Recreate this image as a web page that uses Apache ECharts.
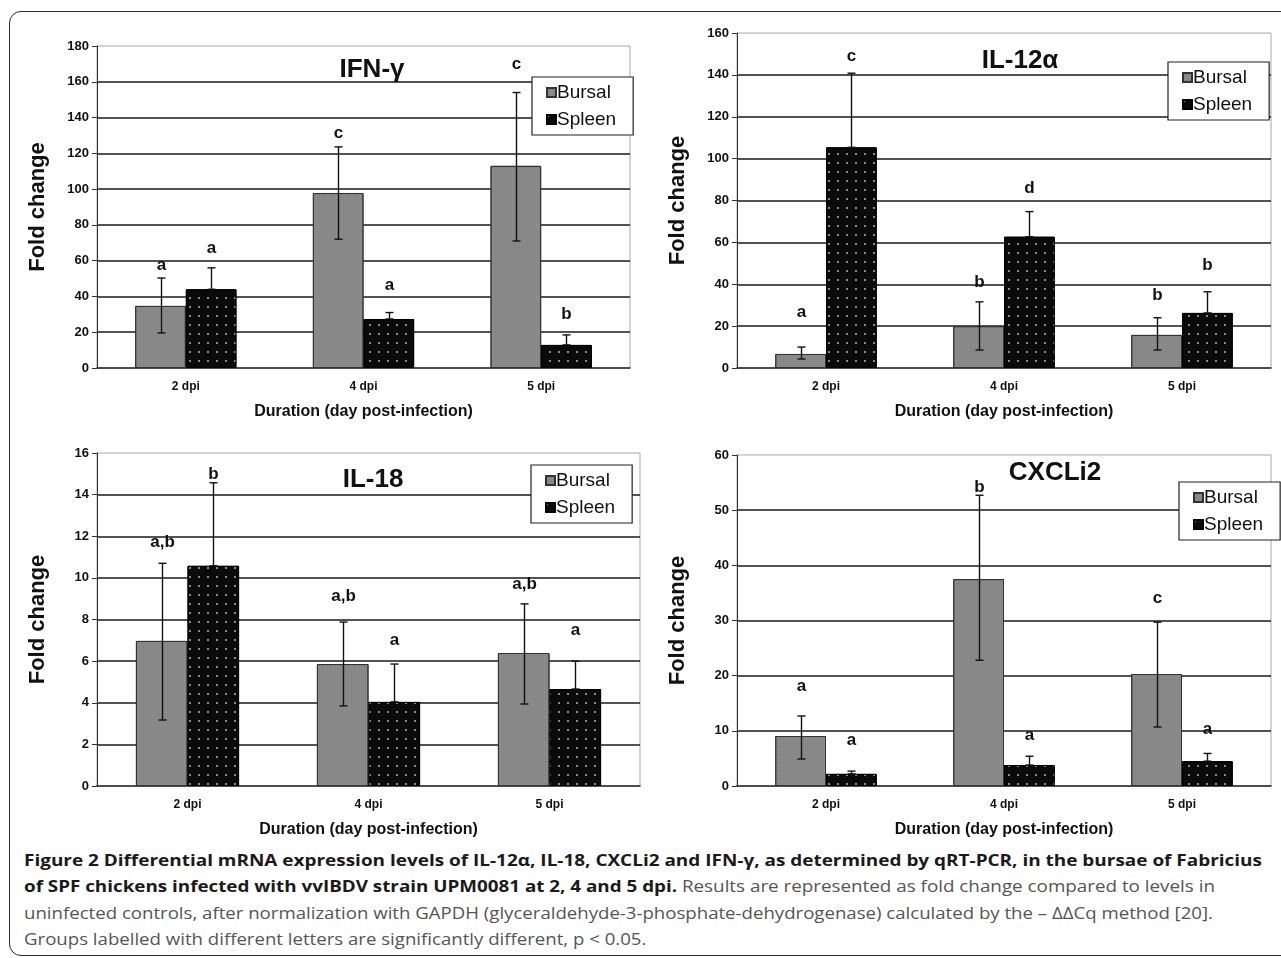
<!DOCTYPE html>
<html>
<head>
<meta charset="utf-8">
<script src="https://cdn.jsdelivr.net/npm/echarts@6/dist/echarts.min.js"></script>
<style>
  html, body { margin: 0; padding: 0; background: #fff; }
  body { width: 1281px; height: 958px; position: relative; overflow: hidden; }
  #frame { position: absolute; left: 9px; top: 11px; width: 1300px; height: 945px;
           border: 1.5px solid #2a2a2a; border-radius: 12px; box-sizing: border-box; }
  #main { position: absolute; left: 0; top: 0; width: 1281px; height: 840px; }
  #caption { position: absolute; left: 24px; top: 850px; font-family: "Open Sans", sans-serif;
             font-size: 16px; color: #555; }
  #caption .ln { white-space: nowrap; display: block; height: 26.4px; line-height: 20px;
                 transform-origin: 0 0; width: max-content; }
  #caption b { color: #1a1a1a; font-weight: 700; }
</style>
</head>
<body>
<div id="frame"></div>
<div id="main"></div>
<div id="caption">
  <div class="ln" data-w="1238"><b>Figure 2 Differential mRNA expression levels of IL-12α, IL-18, CXCLi2 and IFN-γ, as determined by qRT-PCR, in the bursae of Fabricius</b></div>
  <div class="ln" data-w="1191"><b>of SPF chickens infected with vvIBDV strain UPM0081 at 2, 4 and 5 dpi.</b> Results are represented as fold change compared to levels in</div>
  <div class="ln" data-w="1189">uninfected controls, after normalization with GAPDH (glyceraldehyde-3-phosphate-dehydrogenase) calculated by the – ΔΔCq method [20].</div>
  <div class="ln" data-w="same">Groups labelled with different letters are significantly different, p &lt; 0.05.</div>
</div>
<script>
// values (bar height, error ends, group letters and where they sit)
const categories = ['2 dpi', '4 dpi', '5 dpi'];

// IFN-γ
const ifnBursal = [34.7, 97.8, 113.0];
const ifnBursalLow = [19.6, 72.0, 71.0];
const ifnBursalHigh = [50.3, 123.6, 154.0];
const ifnSpleen = [44.0, 27.4, 12.9];
const ifnSpleenHigh = [56.0, 31.0, 18.5];
const ifnBursalGroups = ['a', 'c', 'c'];
const ifnSpleenGroups = ['a', 'a', 'b'];
const ifnBursalGroupAt = [57.6, 131, 170];
const ifnSpleenGroupAt = [67, 46, 30];

// IL-12α
const il12Bursal = [6.7, 20.0, 15.8];
const il12BursalLow = [4.3, 8.6, 8.6];
const il12BursalHigh = [10.0, 31.6, 24.0];
const il12Spleen = [105.4, 62.7, 26.3];
const il12SpleenHigh = [140.8, 74.7, 36.4];
const il12BursalGroups = ['a', 'b', 'b'];
const il12SpleenGroups = ['c', 'd', 'b'];
const il12BursalGroupAt = [26.4, 41, 34.5];
const il12SpleenGroupAt = [149, 86, 49];

// IL-18
const il18Bursal = [6.97, 5.86, 6.39];
const il18BursalLow = [3.17, 3.85, 3.94];
const il18BursalHigh = [10.7, 7.88, 8.75];
const il18Spleen = [10.58, 4.04, 4.66];
const il18SpleenHigh = [14.57, 5.86, 6.0];
const il18BursalGroups = ['a,b', 'a,b', 'a,b'];
const il18SpleenGroups = ['b', 'a', 'a'];
const il18BursalGroupAt = [11.7, 9.1, 9.7];
const il18SpleenGroupAt = [15.0, 7.0, 7.5];

// CXCLi2
const cxclBursal = [9.06, 37.5, 20.3];
const cxclBursalLow = [4.9, 22.8, 10.7];
const cxclBursalHigh = [12.7, 52.7, 29.7];
const cxclSpleen = [2.2, 3.8, 4.5];
const cxclSpleenHigh = [2.7, 5.4, 5.9];
const cxclBursalGroups = ['a', 'b', 'c'];
const cxclSpleenGroups = ['a', 'a', 'a'];
const cxclBursalGroupAt = [18, 54.2, 34];
const cxclSpleenGroupAt = [8.3, 9.2, 10.2];

const FONT = '"Liberation Sans", Arial, sans-serif';
const GAP = 0.43;  // barCategoryGap

const panels = [
  { title: 'IFN-γ', titleX: 372, titleY: 57, max: 180, step: 20,
    grid: { left: 97, top: 46, width: 533, height: 322 }, legend: { left: 532, top: 77 },
    bursal: ifnBursal, bLow: ifnBursalLow, bHigh: ifnBursalHigh, spleen: ifnSpleen, sHigh: ifnSpleenHigh,
    bGroups: ifnBursalGroups, sGroups: ifnSpleenGroups, bAt: ifnBursalGroupAt, sAt: ifnSpleenGroupAt },
  { title: 'IL-12α', titleX: 1020, titleY: 48, max: 160, step: 20,
    grid: { left: 737, top: 33, width: 534, height: 335 }, legend: { left: 1168, top: 62 },
    bursal: il12Bursal, bLow: il12BursalLow, bHigh: il12BursalHigh, spleen: il12Spleen, sHigh: il12SpleenHigh,
    bGroups: il12BursalGroups, sGroups: il12SpleenGroups, bAt: il12BursalGroupAt, sAt: il12SpleenGroupAt },
  { title: 'IL-18', titleX: 373, titleY: 467, max: 16, step: 2,
    grid: { left: 97, top: 453, width: 543, height: 333 }, legend: { left: 531, top: 465 },
    bursal: il18Bursal, bLow: il18BursalLow, bHigh: il18BursalHigh, spleen: il18Spleen, sHigh: il18SpleenHigh,
    bGroups: il18BursalGroups, sGroups: il18SpleenGroups, bAt: il18BursalGroupAt, sAt: il18SpleenGroupAt },
  { title: 'CXCLi2', titleX: 1055, titleY: 460, max: 60, step: 10,
    grid: { left: 737, top: 455, width: 534, height: 331 }, legend: { left: 1179, top: 482 },
    bursal: cxclBursal, bLow: cxclBursalLow, bHigh: cxclBursalHigh, spleen: cxclSpleen, sHigh: cxclSpleenHigh,
    bGroups: cxclBursalGroups, sGroups: cxclSpleenGroups, bAt: cxclBursalGroupAt, sAt: cxclSpleenGroupAt }
];

// error bar + group letter; side -1 = Bursal bar, +1 = Spleen bar
function errorSeries(idx, low, high, groups, at, side) {
  return {
    type: 'custom', xAxisIndex: idx, yAxisIndex: idx, z: 5, silent: true,
    data: high.map((h, i) => [i, low[i], h, at[i]]),
    renderItem: (params, api) => {
      const i = api.value(0);
      const catW = api.size([1, 0])[0];
      const dx = side * catW * (1 - GAP) / 4;
      const top = api.coord([i, api.value(2)]);
      const bot = api.coord([i, api.value(1)]);
      const lab = api.coord([i, api.value(3)]);
      const x = Math.round(top[0] + dx) + 0.5;
      const st = { stroke: '#111', lineWidth: 1.4 };
      return {
        type: 'group',
        children: [
          { type: 'line', shape: { x1: x, y1: top[1], x2: x, y2: bot[1] }, style: st },
          { type: 'line', shape: { x1: x - 4, y1: top[1], x2: x + 4, y2: top[1] }, style: st },
          { type: 'line', shape: { x1: x - 4, y1: bot[1], x2: x + 4, y2: bot[1] }, style: st },
          { type: 'text', x: x, y: lab[1],
            style: { text: groups[params.dataIndex], fill: '#111', font: 'bold 17px ' + FONT,
                     align: 'center', verticalAlign: 'middle' } }
        ]
      };
    }
  };
}

const option = {
  animation: false,
  backgroundColor: 'transparent',
  title: panels.map(p => ({
    text: p.title, left: p.titleX, top: p.titleY, textAlign: 'center', padding: 0,
    textStyle: { fontFamily: FONT, fontWeight: 'bold', fontSize: 26, color: '#111' }
  })),
  legend: panels.map(p => ({
    data: ['Bursal', 'Spleen'], left: p.legend.left, top: p.legend.top, orient: 'vertical',
    backgroundColor: '#fff', borderColor: '#222', borderWidth: 1.2, borderRadius: 0,
    padding: [6, 17, 6, 14], itemGap: 8, itemWidth: 9, itemHeight: 9, icon: 'rect',
    selectedMode: false,
    textStyle: { fontFamily: FONT, fontSize: 19, color: '#111', padding: [0, 0, 0, -4] }
  })),
  grid: panels.map(p => Object.assign({ show: true, borderColor: '#a8a8a8', borderWidth: 1,
                                        backgroundColor: 'transparent' }, p.grid)),
  xAxis: panels.map((p, i) => ({
    type: 'category', gridIndex: i, data: categories,
    name: 'Duration (day post-infection)', nameLocation: 'middle', nameGap: 36,
    nameTextStyle: { fontFamily: FONT, fontWeight: 'bold', fontSize: 16, color: '#111' },
    axisLine: { lineStyle: { color: '#222', width: 1.5 } },
    axisTick: { length: 5, lineStyle: { color: '#222' } },
    axisLabel: { fontFamily: FONT, fontWeight: 'bold', fontSize: 12, color: '#111', margin: 13 },
    splitLine: { show: false }
  })),
  yAxis: panels.map((p, i) => ({
    type: 'value', gridIndex: i, min: 0, max: p.max, interval: p.step,
    name: 'Fold change', nameLocation: 'middle', nameGap: 48,
    nameTextStyle: { fontFamily: FONT, fontWeight: 'bold', fontSize: 22, color: '#111' },
    axisLine: { show: true, lineStyle: { color: '#333', width: 1 } },
    axisTick: { show: true, length: 5, lineStyle: { color: '#333' } },
    axisLabel: { fontFamily: FONT, fontWeight: 'bold', fontSize: 13, color: '#111', margin: 8 },
    splitLine: { show: true, showMinLine: false, showMaxLine: false,
                 lineStyle: { color: '#1a1a1a', width: 1.5 } }
  })),
  series: []
};

panels.forEach((p, i) => {
  option.series.push({
    name: 'Bursal', type: 'bar', xAxisIndex: i, yAxisIndex: i, data: p.bursal,
    barGap: 0, barCategoryGap: (GAP * 100) + '%',
    itemStyle: { color: '#858585', borderColor: '#333', borderWidth: 1,
                 decal: { symbol: 'rect', symbolSize: 1, color: 'rgba(255,255,255,0.12)',
                          dashArrayX: [1, 1], dashArrayY: [1, 1] } }
  });
  option.series.push({
    name: 'Spleen', type: 'bar', xAxisIndex: i, yAxisIndex: i, data: p.spleen,
    barGap: 0, barCategoryGap: (GAP * 100) + '%',
    itemStyle: { color: '#0a0a0a', borderColor: '#000', borderWidth: 1,
                 decal: { symbol: 'rect', symbolSize: 1, color: '#8a8a8a',
                          dashArrayX: [2, 7], dashArrayY: [2, 7] } }
  });
  option.series.push(errorSeries(i, p.bLow, p.bHigh, p.bGroups, p.bAt, -1));
  option.series.push(errorSeries(i, p.spleen, p.sHigh, p.sGroups, p.sAt, 1));
});

const chart = echarts.init(document.getElementById('main'), null, { renderer: 'canvas' });
chart.setOption(option);

// fit the caption lines to the widths they have in the figure
const lines = document.querySelectorAll('#caption .ln');
let lastScale = 1;
lines.forEach(el => {
  const w = el.getBoundingClientRect().width;
  const target = el.dataset.w;
  const s = target === 'same' ? lastScale : (+target) / w;
  lastScale = s;
  el.style.transform = 'scaleX(' + s.toFixed(4) + ')';
});
</script>
</body>
</html>
